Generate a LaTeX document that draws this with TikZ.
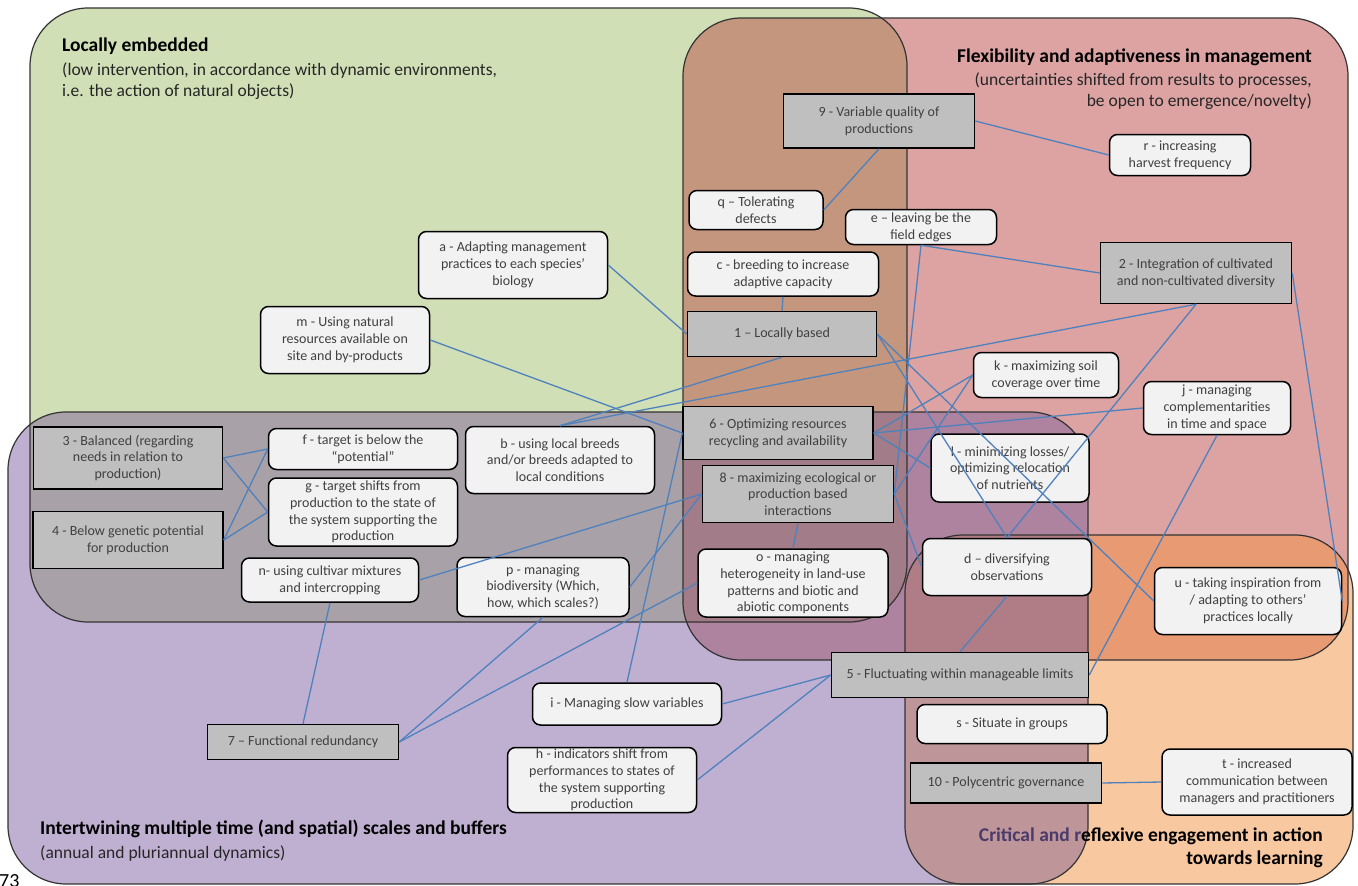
\documentclass[tikz,border=0pt]{standalone}
\usepackage{fontspec}
\setmainfont{Carlito}
\usetikzlibrary{positioning}

\definecolor{greenreg}{HTML}{D1DFB6}
\definecolor{pinkreg}{HTML}{DDA3A3}
\definecolor{purplereg}{HTML}{BFB0D2}
\definecolor{orangereg}{HTML}{F8C8A0}
\definecolor{greenpink}{HTML}{C4967E}
\definecolor{greenpurple}{HTML}{A9A1A8}
\definecolor{pinkpurple}{HTML}{AD839F}
\definecolor{pinkorange}{HTML}{E89B73}
\definecolor{purpleorange}{HTML}{BE9599}
\definecolor{gpp}{HTML}{A27C88}
\definecolor{ppo}{HTML}{B07D86}
\definecolor{linkblue}{HTML}{4F81BD}
\definecolor{mainfill}{HTML}{BFBFBF}
\definecolor{subfill}{HTML}{F2F2F2}
\definecolor{boxtext}{HTML}{404040}
\definecolor{tintpurple}{HTML}{4B3B6B}

% the four domains (pixel units, y downwards)
\def\pathgreen{(30,8) rectangle (907,622)}
\def\pathpink{(683,18) rectangle (1348,660)}
\def\pathpurple{(8,412) rectangle (1088,884)}
\def\pathorange{(905,535) rectangle (1353,884)}

\begin{document}
\begin{tikzpicture}[x=1pt,y=-1pt]
\tikzset{
  reg/.style={rounded corners=58pt},
  regline/.style={reg,draw=black!80,line width=1.2pt},
  mainbox/.style={draw=black,line width=1.5pt,fill=mainfill,text=boxtext,align=center,inner sep=1pt,font=\fontsize{14}{16.8}\selectfont},
  subbox/.style={draw=black,line width=1.5pt,fill=subfill,text=boxtext,rounded corners=8pt,align=center,inner sep=1pt,font=\fontsize{14}{16.8}\selectfont},
  regtitle/.style={inner sep=0pt,font=\fontsize{19.5}{23}\selectfont\bfseries},
  regnote/.style={inner sep=0pt,text=black!85,font=\fontsize{17.5}{21}\selectfont},
  link/.style={linkblue,line width=1.3pt}
}
\useasboundingbox (0,0) rectangle (1358,886);

% domain fills
\fill[reg,greenreg] \pathgreen;
\fill[reg,pinkreg] \pathpink;
\fill[reg,purplereg] \pathpurple;
\fill[reg,orangereg] \pathorange;
% overlaps
\begin{scope}\clip[reg] \pathgreen; \fill[reg,greenpink] \pathpink; \end{scope}
\begin{scope}\clip[reg] \pathgreen; \fill[reg,greenpurple] \pathpurple; \end{scope}
\begin{scope}\clip[reg] \pathpink; \fill[reg,pinkpurple] \pathpurple; \end{scope}
\begin{scope}\clip[reg] \pathpink; \fill[reg,pinkorange] \pathorange; \end{scope}
\begin{scope}\clip[reg] \pathpurple; \fill[reg,purpleorange] \pathorange; \end{scope}
\begin{scope}\clip[reg] \pathgreen; \clip[reg] \pathpink; \fill[reg,gpp] \pathpurple; \end{scope}
\begin{scope}\clip[reg] \pathpink; \clip[reg] \pathpurple; \fill[reg,ppo] \pathorange; \end{scope}
\draw[regline] \pathgreen;
\draw[regline] \pathpink;
\draw[regline] \pathpurple;
\draw[regline] \pathorange;

% domain titles
\node[regtitle,anchor=west] (tlocal) at (62,46) {Locally embedded};
\node[regnote,align=left,below=8pt of tlocal.south west,anchor=north west] (nlocal) {(low intervention, in accordance with dynamic environments,\\i.e. the action of natural objects)};
\node[regtitle,anchor=east] (tflex) at (1312,57) {Flexibility and adaptiveness in management};
\node[regnote,align=right,below=7pt of tflex.south east,anchor=north east] (nflex) {(uncertainties shifted from results to processes,\\be open to emergence/novelty)};
\node[regtitle,anchor=west] (tscale) at (40,829) {Intertwining multiple time (and spatial) scales and buffers};
\node[regnote,below=7pt of tscale.south west,anchor=north west] (nscale) {(annual and pluriannual dynamics)};
\node[regtitle,anchor=east,align=right] (tlearn) at (1323,848) {{\color{tintpurple}Critical and r}eflexive engagement in action\\towards learning};
\node[anchor=base west,inner sep=0pt,font=\fontsize{20}{20}\selectfont] (pagenum) at (-1,887) {73};

% numbered principles
\node[mainbox,minimum width=191pt,minimum height=54pt] (n9) at (879,121) {9 - Variable quality of\\productions};
\node[mainbox,minimum width=191pt,minimum height=61pt] (n2) at (1196,273) {2 - Integration of cultivated\\and non-cultivated diversity};
\node[mainbox,minimum width=189pt,minimum height=45pt] (n1) at (782,334) {1 – Locally based};
\node[mainbox,minimum width=190pt,minimum height=53pt] (n6) at (778,433) {6 - Optimizing resources\\recycling and availability};
\node[mainbox,minimum width=191pt,minimum height=57pt] (n8) at (798,494) {8 - maximizing ecological or\\production based\\interactions};
\node[mainbox,minimum width=189pt,minimum height=62pt] (n3) at (128,458) {3 - Balanced (regarding\\needs in relation to\\production)};
\node[mainbox,minimum width=190pt,minimum height=57pt] (n4) at (128,540) {4 - Below genetic potential\\for production};
\node[mainbox,minimum width=257pt,minimum height=45pt] (n5) at (960,675) {5 - Fluctuating within manageable limits};
\node[mainbox,minimum width=191pt,minimum height=35pt] (n7) at (303,742) {7 – Functional redundancy};
\node[mainbox,minimum width=191pt,minimum height=40pt] (n10) at (1006,783) {10 - Polycentric governance};

% practices
\node[subbox,minimum width=189pt,minimum height=67pt] (na) at (513,265) {a - Adapting management\\practices to each species’\\biology};
\node[subbox,minimum width=169pt,minimum height=67pt] (nm) at (345,340) {m - Using natural\\resources available on\\site and by-products};
\node[subbox,minimum width=134pt,minimum height=39pt] (nq) at (756,210) {q – Tolerating\\defects};
\node[subbox,minimum width=151pt,minimum height=35pt] (ne) at (921,227) {e – leaving be the\\field edges};
\node[subbox,minimum width=191pt,minimum height=44pt] (nc) at (783,274) {c - breeding to increase\\adaptive capacity};
\node[subbox,minimum width=141pt,minimum height=41pt] (nr) at (1180,155) {r - increasing\\harvest frequency};
\node[subbox,minimum width=145pt,minimum height=45pt] (nk) at (1046,375) {k - maximizing soil\\coverage over time};
\node[subbox,minimum width=147pt,minimum height=53pt] (nj) at (1217,408) {j - managing\\complementarities\\in time and space};
\node[subbox,minimum width=158pt,minimum height=68pt] (nl) at (1010,468) {l - minimizing losses/\\optimizing relocation\\of nutrients};
\node[subbox,minimum width=189pt,minimum height=41pt] (nf) at (363,449) {f - target is below the\\“potential”};
\node[subbox,minimum width=189pt,minimum height=68pt] (ng) at (363,512) {g - target shifts from\\production to the state of\\the system supporting the\\production};
\node[subbox,minimum width=189pt,minimum height=67pt] (nb) at (560,460) {b - using local breeds\\and/or breeds adapted to\\local conditions};
\node[subbox,minimum width=177pt,minimum height=44pt] (nn) at (330,580) {n- using cultivar mixtures\\and intercropping};
\node[subbox,minimum width=172pt,minimum height=59pt] (np) at (543,587) {p - managing\\biodiversity (Which,\\how, which scales?)};
\node[subbox,minimum width=190pt,minimum height=68pt] (no) at (793,583) {o -  managing\\heterogeneity in land-use\\patterns and biotic and\\abiotic components};
\node[subbox,minimum width=169pt,minimum height=57pt] (nd) at (1007,567) {d – diversifying\\observations};
\node[subbox,minimum width=187pt,minimum height=67pt] (nu) at (1248,601) {u - taking inspiration from\\/ adapting to others’\\practices locally};
\node[subbox,minimum width=189pt,minimum height=42pt] (ni) at (627,704) {i - Managing slow variables};
\node[subbox,minimum width=189pt,minimum height=65pt] (nh) at (602,780) {h - indicators shift from\\performances to states of\\the system supporting\\production};
\node[subbox,minimum width=190pt,minimum height=39pt] (ns) at (1012,724) {s - Situate in groups};
\node[subbox,minimum width=190pt,minimum height=66pt] (nt) at (1257,782) {t - increased\\communication between\\managers and practitioners};

% links
\draw[link] (n9.south) -- (nq.east);
\draw[link] (n9.east) -- (nr.west);
\draw[link] (na.east) -- (n1.west);
\draw[link] (nm.east) -- (n6.west);
\draw[link] (nc.south) -- (n1.north);
\draw[link] (ne.south) -- (n2.west);
\draw[link] (ne.south) -- (n8.east);
\draw[link] (n1.south) -- (nb.north);
\draw[link] (n2.south) -- (nb.north);
\draw[link] (n1.east) -- (nd.north);
\draw[link] (n1.east) -- (nu.west);
\draw[link] (n2.south) -- (nd.north);
\draw[link] (n2.east) -- (nu.east);
\draw[link] (n6.east) -- (nk.west);
\draw[link] (n6.east) -- (nj.west);
\draw[link] (n6.east) -- (nl.west);
\draw[link] (n6.west) -- (ni.north);
\draw[link] (n8.east) -- (nk.west);
\draw[link] (n8.east) -- (nd.west);
\draw[link] (n8.west) -- (nn.east);
\draw[link] (n8.west) -- (np.east);
\draw[link] (n8.south) -- (no.north);
\draw[link] (n3.east) -- (nf.west);
\draw[link] (n3.east) -- (ng.west);
\draw[link] (n4.east) -- (nf.west);
\draw[link] (n4.east) -- (ng.west);
\draw[link] (nn.south) -- (n7.north);
\draw[link] (np.south) -- (n7.east);
\draw[link] (no.west) -- (n7.east);
\draw[link] (nj.south) -- (n5.east);
\draw[link] (nd.south) -- (n5.north);
\draw[link] (ni.east) -- (n5.west);
\draw[link] (nh.east) -- (n5.west);
\draw[link] (n10.east) -- (nt.west);
\end{tikzpicture}
\end{document}
